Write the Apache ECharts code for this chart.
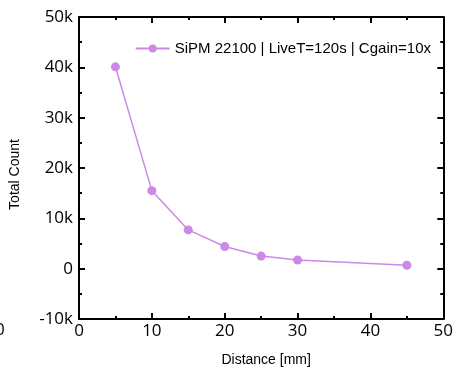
<!DOCTYPE html>
<html><head><meta charset="utf-8">
<script src="https://cdn.jsdelivr.net/npm/echarts@6/dist/echarts.min.js"></script>
<style>html,body{margin:0;padding:0;background:#fff}#c{width:456px;height:372px}</style>
</head><body><div id="c"></div>
<script>
const distance = [5, 10, 15, 20, 25, 30, 45];
const totalCount = [40100, 15500, 7700, 4400, 2500, 1730, 670];
const seriesName = 'SiPM 22100 | LiveT=120s | Cgain=10x';
const xTitle = 'Distance [mm]';
const yTitle = 'Total Count';

const purple = '#CC8AE6';
const tickFont = {fontFamily: 'Open Sans', fontSize: 17, color: '#000'};
const chart = echarts.init(document.getElementById('c'), null, {renderer: 'canvas'});
const axisLine = {show: true, onZero: false, lineStyle: {color: '#000', width: 2}};
const axisTick = {show: true, inside: true, length: 6, lineStyle: {color: '#000', width: 2}};
const minorTick = {show: true, splitNumber: 2, length: 3, lineStyle: {color: '#000', width: 2}};
const kfmt = v => v === 0 ? '0' : (v / 1000) + 'k';
chart.setOption({
  animation: false,
  grid: {left: 77, right: 11, top: 17, bottom: 53},
  legend: {
    data: [seriesName], right: 20, top: 36, itemWidth: 34, itemHeight: 10, itemGap: 4,
    textStyle: {fontFamily: 'Liberation Sans', fontSize: 15, color: '#000'}
  },
  xAxis: [{
    type: 'value', min: 0, max: 50, interval: 10, position: 'bottom',
    name: xTitle, nameLocation: 'middle', nameGap: 34,
    nameTextStyle: {fontFamily: 'Liberation Sans', fontSize: 14, color: '#000', padding: [0, 0, 0, 10]},
    axisLine, axisTick, minorTick, splitLine: {show: false},
    axisLabel: Object.assign({margin: 4}, tickFont)
  }, {
    type: 'value', min: 0, max: 50, interval: 10, position: 'top',
    axisLine, axisTick, minorTick, splitLine: {show: false}, axisLabel: {show: false}
  }],
  yAxis: [{
    type: 'value', min: -10000, max: 50000, interval: 10000, position: 'left',
    name: yTitle, nameLocation: 'middle', nameGap: 57, nameRotate: 90,
    nameTextStyle: {fontFamily: 'Liberation Sans', fontSize: 14, color: '#000', padding: [0, 13, 0, 0]},
    axisLine, axisTick, minorTick, splitLine: {show: false},
    axisLabel: Object.assign({margin: 6, formatter: kfmt}, tickFont)
  }, {
    type: 'value', min: -10000, max: 50000, interval: 10000, position: 'right',
    axisLine, axisTick, minorTick, splitLine: {show: false}, axisLabel: {show: false}
  }],
  graphic: [{type: 'text', left: -5, top: 322, style: {text: '0', font: '17px "Open Sans"', fill: '#000'}}],
  series: [{
    name: seriesName, type: 'line', data: distance.map((d, i) => [d, totalCount[i]]),
    symbol: 'circle', symbolSize: 9,
    lineStyle: {color: purple, width: 1.5}, itemStyle: {color: purple}
  }]
});
</script></body></html>
